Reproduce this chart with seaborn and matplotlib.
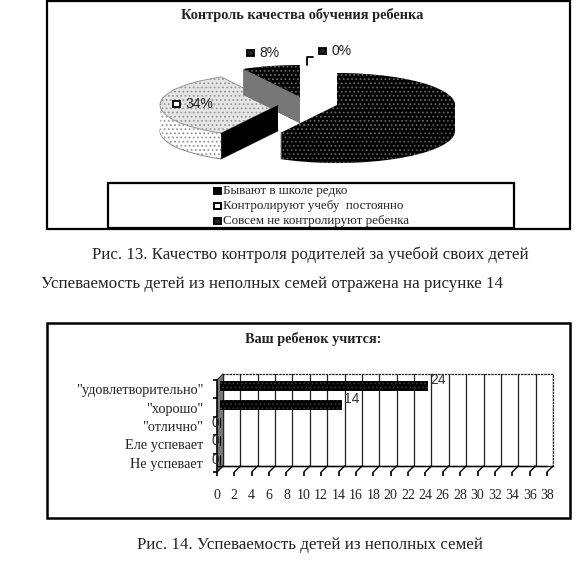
import numpy as np
import pandas as pd
import matplotlib
matplotlib.use("Agg")
import matplotlib.pyplot as plt
import seaborn as sns
from matplotlib.patches import Rectangle

sns.set_theme(style="white")
plt.rcParams['font.family'] = ['Liberation Serif', 'DejaVu Serif']
plt.rcParams['hatch.linewidth'] = 0.8

W, H = 576, 565

# Pie data
pie_title = "Контроль качества обучения ребенка"
pie_names = ["Бывают в школе редко", "Контролируют учебу  постоянно", "Совсем не контролируют ребенка"]
pie_shares = [58, 34, 8]

# Bar data
bar_title = "Ваш ребенок учится:"
bar_names = ['"удовлетворительно"', '"хорошо"', '"отлично"', "Еле успевает", "Не успевает"]
bar_values = [24, 14, 0, 0, 0]
x_ticks = list(range(0, 40, 2))

fig = plt.figure(figsize=(W / 100, H / 100), dpi=100)


def px_axes(x0, y0, x1, y1, **kw):
    # axes placed by pixel box, y counted from the top
    return fig.add_axes([x0 / W, 1 - y1 / H, (x1 - x0) / W, (y1 - y0) / H], **kw)


# -----------------------------
# Page: frames and captions
# -----------------------------
page = px_axes(0, 0, W, H)
page.set_xlim(0, W)
page.set_ylim(H, 0)
page.axis("off")

page.add_patch(Rectangle((47, 1), 523, 228, fc="white", ec="black", lw=1.6))
page.add_patch(Rectangle((108, 183), 406, 45, fc="white", ec="black", lw=1.6))
page.add_patch(Rectangle((47, 323), 523, 195, fc="white", ec="black", lw=1.8))

page.text(302, 15, pie_title, ha="center", va="center", fontsize=10.4, fontweight="bold", color="#222222")
page.text(313, 339, bar_title, ha="center", va="center", fontsize=10.3, fontweight="bold", color="#222222")
page.text(310, 255, "Рис. 13. Качество контроля родителей за учебой своих детей",
          ha="center", va="center", fontsize=12.2, color="#222222")
page.text(272, 284, "Успеваемость детей из неполных семей отражена на рисунке 14",
          ha="center", va="center", fontsize=12.2, color="#222222")
page.text(310, 545, "Рис. 14. Успеваемость детей из неполных семей",
          ha="center", va="center", fontsize=12.2, color="#222222")

# legend entries
for name, y, fc in zip(pie_names, [191, 206, 221], ["black", "white", "#222222"]):
    page.add_patch(Rectangle((214, y - 3.5), 6.5, 6.5, fc=fc, ec="black", lw=1.4))
    page.text(223, y, name, ha="left", va="center", fontsize=9.4, color="#222222")

# -----------------------------
# Exploded 3D pie
# -----------------------------
rx, ry, depth = 118, 32, 26
x_ref, y_ref = 337, 105


def to_pie(px, py):
    return (px - x_ref) / rx, (y_ref - py) / ry


pie_ax = px_axes(0, 0, W, H)
pie_ax.patch.set_alpha(0)

apexes = [(337, 105), (278, 105), (300, 97)]
side_fc = ["black", "white", "black"]
side_hatch = ["#666666", "#888888", "#666666"]
top_fc = ["black", "#e6e6e6", "black"]
top_hatch = ["#666666", "#999999", "#666666"]
starts = 90 - 3.6 * np.r_[0, np.cumsum(pie_shares)[:-1]]


def draw_slice(i, dy, fc, ec, lw=0):
    cx, cy = to_pie(*apexes[i])
    w, _ = pie_ax.pie([pie_shares[i], 100 - pie_shares[i]], startangle=starts[i], counterclock=False,
                      center=(cx, cy - dy / ry), colors=[fc, "white"],
                      wedgeprops=dict(hatch="....", edgecolor=ec, linewidth=lw))
    w[1].set_visible(False)


# back to front so the big slice sits on top
for i in [2, 1, 0]:
    for d in range(depth, 0, -1):
        # only the light slice gets an outline
        draw_slice(i, d, side_fc[i], side_hatch[i], lw=0.7 if i == 1 and d == depth else 0)
    draw_slice(i, 0, top_fc[i], top_hatch[i], lw=0.7 if i == 1 else 0)
    if i > 0:
        # cut face of the slice, the edge that looks at the viewer
        ang = np.deg2rad(starts[i])
        cx, cy = to_pie(*apexes[i])
        rim = (cx + np.cos(ang), cy + np.sin(ang))
        dd = depth / ry
        pie_ax.fill([cx, rim[0], rim[0], cx], [cy, rim[1], rim[1] - dd, cy - dd],
                    color="black" if i == 1 else "#777777", lw=0, zorder=5)

pie_ax.set_aspect("auto")
pie_ax.set_xlim(to_pie(0, 0)[0], to_pie(W, 0)[0])
pie_ax.set_ylim(to_pie(0, H)[1], to_pie(0, 0)[1])
pie_ax.axis("off")

# pie data labels, on the page scale
lab = px_axes(0, 0, W, H)
lab.patch.set_alpha(0)
lab.set_xlim(0, W)
lab.set_ylim(H, 0)
lab.axis("off")
for txt, tx, y, mx, fc in [("8%", 259, 53, 250, "#222222"), ("0%", 332, 51, 322, "#222222"), ("34%", 185, 104, 176, "white")]:
    lab.add_patch(Rectangle((mx - 3, y - 3.5), 6.5, 6.5, fc=fc, ec="black", lw=1.3, zorder=6))
    lab.text(tx, y, txt, ha="left", va="center", fontsize=10, family="Liberation Sans", color="#222222", zorder=6)
lab.plot([307, 307, 313], [65, 57, 57], color="black", lw=1.3)

# -----------------------------
# 3D style bar chart
# -----------------------------
# back wall with the grid
wall = px_axes(223, 374, 553, 466)
wall.set_xlim(0, 38)
wall.set_xticks(x_ticks)
wall.set_yticks([])
wall.set_xticklabels([])
wall.grid(axis="x", color="#222222", lw=0.9)
wall.set_axisbelow(True)
for s in wall.spines.values():
    s.set_color("#222222")
    s.set_linewidth(0.9)
wall.spines["top"].set_linestyle(":")
wall.spines["right"].set_linestyle(":")

# front axis with ticks and labels
front = px_axes(217, 380, 547, 472)
front.patch.set_alpha(0)
front.set_xlim(0, 38)
front.set_ylim(5, 0)
front.set_xticks(x_ticks)
front.set_yticks(range(6))
front.set_yticklabels([])
front.set_yticks(np.arange(5) + 0.5, labels=bar_names, minor=True)
front.tick_params(axis="x", which="major", bottom=True, length=3, width=1.2, color="black", pad=9, labelsize=10, labelcolor="#222222")
front.tick_params(axis="y", which="major", left=True, length=3, width=1.2, color="black")
front.tick_params(axis="y", which="minor", left=False, pad=6, labelsize=10.3, labelcolor="#222222")
for s in ["top", "right", "bottom"]:
    front.spines[s].set_visible(False)
front.spines["left"].set_color("black")
front.spines["left"].set_linewidth(1.2)

dx, dy = 6 * 38 / 330, 6 * 5 / 92
# gray side wall and floor diagonals
front.fill([0, dx, dx, 0], [0, -dy, 5 - dy, 5], color="#777777", lw=0, clip_on=False)
front.plot([0, dx], [0, -dy], color="#222222", lw=0.8, clip_on=False)
front.plot([0, 38], [5 - dy, 5 - dy], color="black", lw=1.0, clip_on=False)
for t in x_ticks:
    front.plot([t, t + dx], [5, 5 - dy], color="black", lw=1.0, clip_on=False)

# bars sit half way into the depth
bars = px_axes(220, 377, 550, 469)
bars.patch.set_alpha(0)
df = pd.DataFrame({"name": bar_names, "value": bar_values})
sns.barplot(data=df, x="value", y="name", orient="h", ax=bars, color="black", saturation=1,
            width=0.54, edgecolor="black", linewidth=1.5)
for p, v in zip(bars.patches, bar_values):
    if v > 0:
        p.set_hatch("....")
        p.set_edgecolor("#333333")
        p.set_linewidth(0)
bars.set_xlim(0, 38)
bars.set_xlabel("")
bars.set_ylabel("")
bars.set_xticks([])
bars.set_yticks([])
for s in bars.spines.values():
    s.set_visible(False)
for i, v in enumerate(bar_values):
    if v > 0:
        off, ha = (2, 6), "left"
    else:
        off, ha = (-5, 0), "center"
    bars.annotate(str(v), xy=(v, i), xytext=off, textcoords="offset pixels", ha=ha, va="center",
                  fontsize=10, family="Liberation Sans", color="#333333", annotation_clip=False)

fig.savefig("out.png", dpi=100)
